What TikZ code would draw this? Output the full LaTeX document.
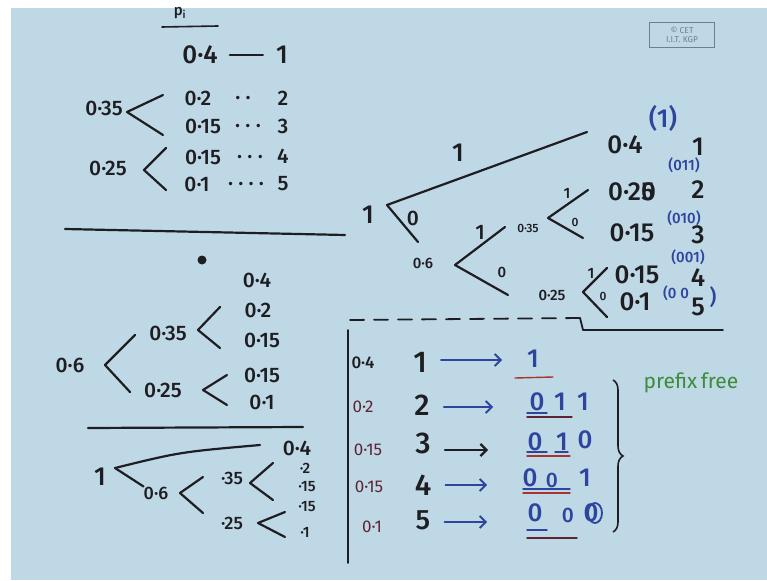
\documentclass[tikz,border=0pt]{standalone}
\usepackage{fontspec}
\setmainfont{Fira Sans}[BoldFont={Fira Sans Medium}]
\usetikzlibrary{arrows.meta,decorations.pathreplacing}
\definecolor{board}{HTML}{BFD8E5}
\definecolor{ink}{HTML}{1E1E22}
\definecolor{blueink}{HTML}{2E45A0}
\definecolor{redink}{HTML}{A8342E}
\definecolor{maroon}{HTML}{5E2433}
\definecolor{greenink}{HTML}{3C8C3C}
\definecolor{logo}{HTML}{6F7F92}
\tikzset{
  tL/.style={inner sep=0pt, text=ink, font=\bfseries\fontsize{26}{26}\selectfont},
  tM/.style={inner sep=0pt, text=ink, font=\bfseries\fontsize{21}{21}\selectfont},
  tS/.style={inner sep=0pt, text=ink, font=\bfseries\fontsize{15}{15}\selectfont},
  tXS/.style={inner sep=0pt, text=ink, font=\bfseries\fontsize{12}{12}\selectfont},
  bl/.style={text=blueink},
  ln/.style={draw=ink, line width=2.2pt, line cap=round, line join=round},
  thinln/.style={draw=ink, line width=1.6pt, line cap=round, line join=round},
  arr/.style={draw=blueink, line width=1.8pt, line cap=round, -{Straight Barb[length=6pt,width=12pt]}},
  uline/.style={line width=1.4pt, line cap=round},
}
\begin{document}
\begin{tikzpicture}[x=1pt,y=-1pt]
\useasboundingbox (0,0) rectangle (767,580);
\fill[white] (0,0) rectangle (767,580);
\fill[board] (11,8) rectangle (767,580);

% ---------- top-left list ----------
\node[tS] (pi) at (180,13) {p\textsubscript{i}};
\coordinate (pu1) at (162,27); \coordinate (pu2) at (218,26);
\draw[thinln] (pu1) -- (pu2);
\node[tL] (a04) at (200,55) {0·4};
\node[tL] (a1) at (282,55) {1};
\draw[ln] ([xshift=12pt]a04.east) -- ([xshift=-13pt]a1.west);
\node[tM] (a035) at (104,108) {0·35};
\coordinate (av1) at (127,112); \coordinate (av1a) at (163,95); \coordinate (av1b) at (163,135);
\draw[ln] (av1a) -- (av1) -- (av1b);
\node[tM] (a02) at (198,98) {0·2};
\node[tM] (ad2) at (243,100) {· ·};
\node[tM] (a2) at (283,98) {2};
\node[tM] (a015) at (203,126) {0·15};
\node[tM] (ad3) at (248,128) {· · ·};
\node[tM] (a3) at (283,126) {3};
\node[tM] (a025) at (108,168) {0·25};
\coordinate (av2) at (144,170); \coordinate (av2a) at (166,148); \coordinate (av2b) at (166,190);
\draw[ln] (av2a) -- (av2) -- (av2b);
\node[tM] (a015b) at (203,157) {0·15};
\node[tM] (ad4) at (250,159) {· · ·};
\node[tM] (a4) at (283,156) {4};
\node[tM] (a01) at (197,184) {0·1};
\node[tM] (ad5) at (246,186) {· · · ·};
\node[tM] (a5) at (283,184) {5};
\coordinate (h1a) at (65,229); \coordinate (h1b) at (345,235);
\draw[ln] (h1a) -- (h1b);

% ---------- middle-left tree ----------
\fill[ink] (202,260) circle (4.5pt);
\node[tM] (b04) at (257,280) {0·4};
\node[tM] (b02) at (258,310) {0·2};
\node[tM] (b015) at (262,340) {0·15};
\node[tM] (b035) at (168,333) {0·35};
\coordinate (bv1) at (198,330); \coordinate (bv1a) at (220,307); \coordinate (bv1b) at (220,348);
\draw[ln] (bv1a) -- (bv1) -- (bv1b);
\node[tM] (b06) at (70,365) {0·6};
\coordinate (bv0) at (105,365); \coordinate (bv0a) at (135,335); \coordinate (bv0b) at (130,392);
\draw[ln] (bv0a) -- (bv0) -- (bv0b);
\node[tM] (b025) at (163,390) {0·25};
\coordinate (bv2) at (203,390); \coordinate (bv2a) at (227,375); \coordinate (bv2b) at (227,405);
\draw[ln] (bv2a) -- (bv2) -- (bv2b);
\node[tM] (b015b) at (262,375) {0·15};
\node[tM] (b01) at (262,402) {0·1};
\coordinate (h2a) at (88,428); \coordinate (h2b) at (303,427);
\draw[ln] (h2a) -- (h2b);

% ---------- bottom-left tree ----------
\node[tL] (c1) at (100,477) {1};
\coordinate (cr) at (115,468);
\node[tM] (c04) at (297,448) {0·4};
\coordinate (cra) at (260,445);
\draw[ln] (cr) .. controls (180,452) .. (cra);
\node[tM, font=\bfseries\fontsize{18}{18}\selectfont] (c06) at (156,493) {0·6};
\draw[ln] (cr) -- (c06.north west);
\coordinate (cv1) at (180,493); \coordinate (cv1a) at (203,477); \coordinate (cv1b) at (203,513);
\draw[ln] (cv1a) -- (cv1) -- (cv1b);
\node[tM, font=\bfseries\fontsize{18}{18}\selectfont] (c35) at (232,478) {·35};
\coordinate (cv2) at (250,483); \coordinate (cv2a) at (273,463); \coordinate (cv2b) at (273,500);
\draw[ln] (cv2a) -- (cv2) -- (cv2b);
\node[tM, font=\bfseries\fontsize{18}{18}\selectfont] (c25) at (232,523) {·25};
\coordinate (cv3) at (258,523); \coordinate (cv3a) at (285,512); \coordinate (cv3b) at (285,537);
\draw[ln] (cv3a) -- (cv3) -- (cv3b);
\node[tS] (c2) at (305,468) {·2};
\node[tS] (c15) at (307,487) {·15};
\node[tS] (c15b) at (307,507) {·15};
\node[tS] (c01) at (305,532) {·1};

% ---------- right tree ----------
\node[tL] (r1) at (368,215) {1};
\coordinate (rr) at (387,205);
\coordinate (rra) at (587,132);
\coordinate (rrb) at (418,242);
\draw[ln] (rra) -- (rr) -- (rrb);
\node[tL] (rl1) at (458,153) {1};
\node[tM] (rl0) at (413,218) {0};
\node[tS] (r06) at (423,263) {0·6};
\coordinate (rv1) at (455,265); \coordinate (rv1a) at (505,227); \coordinate (rv1b) at (508,295);
\draw[ln] (rv1a) -- (rv1) -- (rv1b);
\node[tM] (rv1l1) at (480,232) {1};
\node[tS] (rv1l0) at (502,272) {0};
\node[tXS] (r035) at (528,228) {0·35};
\coordinate (rv2) at (548,218); \coordinate (rv2a) at (588,190); \coordinate (rv2b) at (583,238);
\draw[ln] (rv2a) -- (rv2) -- (rv2b);
\node[tS] (rv2l1) at (567,193) {1};
\node[tXS] (rv2l0) at (575,222) {0};
\node[tS] (r025) at (552,295) {0·25};
\coordinate (rv3) at (583,292); \coordinate (rv3a) at (607,268); \coordinate (rv3b) at (607,317);
\draw[ln] (rv3a) -- (rv3) -- (rv3b);
\node[tS] (rv3l1) at (591,273) {1};
\node[tXS] (rv3l0) at (603,296) {0};
\node[tL] (rp1) at (625,145) {0·4};
\node[tL,bl] (rc1) at (663,118) {(1)};
\node[tL] (rn1) at (698,147) {1};
\node[tS,bl] (rc2) at (684,165) {(011)};
\node[tL] (rp2) at (632,192) {0·2\rlap{5}0};
\node[tL] (rn2) at (698,190) {2};
\node[tL] (rp3) at (632,233) {0·15};
\node[tS,bl] (rc3) at (684,218) {(010)};
\node[tL] (rn3) at (698,235) {3};
\node[tL] (rp4) at (637,275) {0·15};
\node[tS,bl] (rc4) at (688,257) {(001)};
\node[tL] (rn4) at (698,278) {4};
\node[tL] (rp5) at (635,302) {0·1};
\node[tS,bl] (rc5) at (676,293) {(0 0};
\node[tM,bl] (rc5b) at (713,297) {)};
\node[tL] (rn5) at (698,307) {5};
% dashed separator
\coordinate (ds1) at (350,320); \coordinate (ds2) at (580,318);
\coordinate (ds3) at (583,330); \coordinate (ds4) at (723,330);
\draw[ln, line width=1.8pt, dash pattern=on 14pt off 10pt] (ds1) -- (ds2);
\draw[ln, line width=1.8pt] (ds2) -- (ds3) -- (ds4);

% ---------- code table ----------
\coordinate (tv1) at (348,330); \coordinate (tv2) at (348,563);
\draw[ln, line width=1.8pt] (tv1) -- (tv2);
\node[tS,font=\bfseries\fontsize{17}{17}\selectfont] (p1) at (363,363) {0·4};
\node[tS,text=maroon,font=\fontsize{17}{17}\selectfont] (p2) at (363,407) {0·2};
\node[tS,text=maroon,font=\fontsize{17}{17}\selectfont] (p3) at (368,450) {0·15};
\node[tS,text=maroon,font=\fontsize{17}{17}\selectfont] (p4) at (369,487) {0·15};
\node[tS,text=maroon,font=\fontsize{17}{17}\selectfont] (p5) at (372,527) {0·1};
\node[tL,font=\bfseries\fontsize{30}{30}\selectfont] (n1) at (420,362) {1};
\node[tL,font=\bfseries\fontsize{30}{30}\selectfont] (n2) at (422,405) {2};
\node[tL,font=\bfseries\fontsize{30}{30}\selectfont] (n3) at (423,443) {3};
\node[tL,font=\bfseries\fontsize{30}{30}\selectfont] (n4) at (423,485) {4};
\node[tL,font=\bfseries\fontsize{28}{28}\selectfont] (n5) at (423,520) {5};
\coordinate (e1) at (502,360); \coordinate (e2) at (493,407);
\coordinate (e3) at (488,450); \coordinate (e4) at (487,485); \coordinate (e5) at (487,522);
\draw[arr] ([xshift=14pt]n1.east |- e1) -- (e1);
\draw[arr] ([xshift=14pt]n2.east |- e2) -- (e2);
\draw[arr, draw=ink, line width=2.2pt] ([xshift=14pt]n3.east |- e3) -- (e3);
\draw[arr] ([xshift=14pt]n4.east |- e4) -- (e4);
\draw[arr] ([xshift=14pt]n5.east |- e5) -- (e5);
% codewords
\node[tL,bl] (k11) at (533,359) {1};
\node[tL,bl] (k21) at (537,402) {0};
\node[tL,bl] (k22) at (560,402) {1};
\node[tL,bl] (k23) at (583,402) {1};
\node[tL,bl] (k31) at (535,442) {0};
\node[tL,bl] (k32) at (562,442) {1};
\node[tL,bl] (k33) at (585,440) {0};
\node[tL,bl] (k41) at (530,478) {0};
\node[tM,bl] (k42) at (552,480) {0};
\node[tL,bl] (k43) at (585,478) {1};
\node[tL,bl] (k51) at (535,513) {0};
\node[tM,bl] (k52) at (568,515) {0};
\node[tL,bl] (k53) at (591,513) {0};
\draw[blueink, line width=1.8pt] (595,513) ellipse [x radius=7pt, y radius=10pt];
% underlines
\draw[uline, redink] (515,378) -- (553,377);
\draw[uline, blueink] (527,413) -- (547,413);
\draw[uline, maroon] (527,417) -- (572,417);
\draw[uline, blueink] (527,452) -- (547,452);
\draw[uline, blueink] (555,452) -- (568,452);
\draw[uline, redink] (527,456) -- (570,456);
\draw[uline, blueink] (523,489) -- (570,489);
\draw[uline, redink] (523,493) -- (570,493);
\draw[uline, blueink] (527,530) -- (547,530);
\draw[uline, maroon] (527,538) -- (577,538);
% brace
\coordinate (br1) at (613,380); \coordinate (br2) at (613,532);
\draw[ink, line width=1.6pt, decorate, decoration={brace, amplitude=10pt}] (br1) -- (br2);
\node[inner sep=0pt, text=greenink, font=\fontsize{21}{21}\selectfont] (pf) at (691,383) {prefix\,free};

% ---------- logo ----------
\node[draw=logo, line width=1pt, minimum width=65pt, minimum height=25pt, inner sep=1pt, text=logo,
      font=\fontsize{8.5}{9}\selectfont, align=center] (lg) at (682,35) {© CET\\I.I.T. KGP};
\end{tikzpicture}
\end{document}
